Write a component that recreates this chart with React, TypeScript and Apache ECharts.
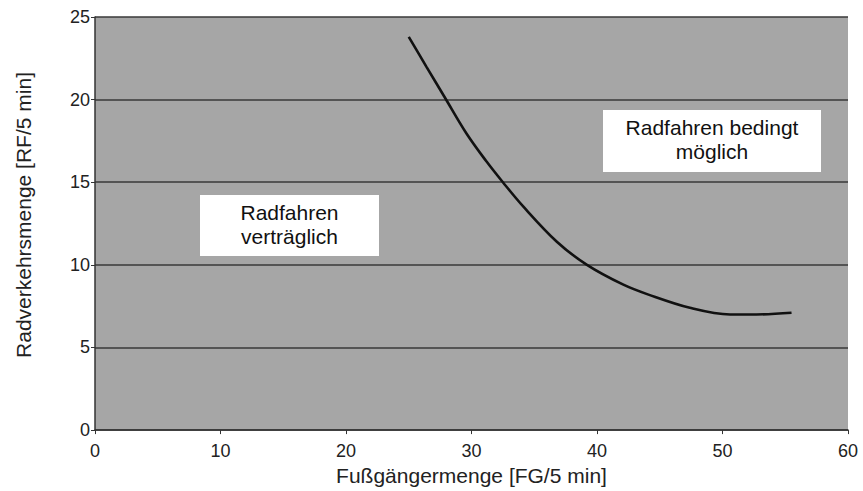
import React, { useEffect, useRef } from "react";
import * as echarts from "echarts";

const pedestrians = [25.0, 26.4, 27.9, 29.6, 31.2, 32.5, 34.1, 36.8, 39.2, 42.1, 44.1, 47.4, 50.6, 52.7, 55.5];
const cyclists = [23.8, 22.0, 20.1, 17.95, 16.25, 15.0, 13.55, 11.4, 10.0, 8.8, 8.2, 7.4, 7.0, 7.0, 7.1];
const xTicks = [0, 10, 20, 30, 40, 50, 60];
const yTicks = [0, 5, 10, 15, 20, 25];
const xTitle = "Fußgängermenge [FG/5 min]";
const yTitle = "Radverkehrsmenge [RF/5 min]";
const zoneLeft = "Radfahren\nverträglich";
const zoneRight = "Radfahren bedingt\nmöglich";

const FONT = "'Liberation Sans', Arial, sans-serif";

export default function App() {
  const ref = useRef<HTMLDivElement>(null);
  useEffect(() => {
    if (!ref.current) return;
    const chart = echarts.init(ref.current, null, { renderer: "svg" });
    const data = pedestrians.map((x, i) => [x, cyclists[i]]);
    chart.setOption({
      animation: false,
      backgroundColor: "#ffffff",
      textStyle: { fontFamily: FONT },
      grid: {
        left: 95,
        right: 15,
        top: 17,
        bottom: 58,
        show: true,
        backgroundColor: "#a6a6a6",
        borderWidth: 0,
      },
      xAxis: {
        type: "value",
        min: xTicks[0],
        max: xTicks[xTicks.length - 1],
        interval: 10,
        name: xTitle,
        nameLocation: "middle",
        nameGap: 33,
        nameTextStyle: { fontSize: 21, color: "#222", fontFamily: FONT },
        axisLine: { show: true, lineStyle: { color: "#333", width: 1.5 } },
        axisTick: { show: true, length: 4, lineStyle: { color: "#333" } },
        axisLabel: { fontSize: 18, color: "#222", margin: 12, fontFamily: FONT },
        splitLine: { show: false },
      },
      yAxis: {
        type: "value",
        min: yTicks[0],
        max: yTicks[yTicks.length - 1],
        interval: 5,
        axisLine: { show: true, lineStyle: { color: "#333", width: 1.5 } },
        axisTick: { show: true, length: 4, lineStyle: { color: "#333" } },
        axisLabel: {
          fontSize: 18,
          color: "#222",
          margin: 5,
          fontFamily: FONT,
          padding: [10, 0, 0, 0],
        },
        splitLine: { show: true, lineStyle: { color: "#383838", width: 1.6 } },
      },
      graphic: [
        {
          type: "text",
          x: 23,
          y: 215,
          rotation: Math.PI / 2,
          style: {
            text: yTitle,
            fontSize: 21,
            fill: "#222",
            fontFamily: FONT,
            align: "center",
            verticalAlign: "middle",
          },
        },
        {
          type: "rect",
          shape: { x: 200, y: 195, width: 179, height: 61 },
          style: { fill: "#ffffff" },
          z: 10,
        },
        {
          type: "text",
          x: 289.5,
          y: 224,
          z: 11,
          style: {
            text: zoneLeft,
            fontSize: 21,
            lineHeight: 24,
            fill: "#111",
            fontFamily: FONT,
            align: "center",
            verticalAlign: "middle",
          },
        },
        {
          type: "rect",
          shape: { x: 603, y: 110, width: 218, height: 62 },
          style: { fill: "#ffffff" },
          z: 10,
        },
        {
          type: "text",
          x: 712,
          y: 139,
          z: 11,
          style: {
            text: zoneRight,
            fontSize: 21,
            lineHeight: 24,
            fill: "#111",
            fontFamily: FONT,
            align: "center",
            verticalAlign: "middle",
          },
        },
      ],
      series: [
        {
          type: "line",
          data,
          smooth: 0.35,
          symbol: "none",
          lineStyle: { color: "#111", width: 2.6 },
          z: 5,
        },
      ],
    });
    return () => chart.dispose();
  }, []);
  return (
    <div
      ref={ref}
      style={{ position: "fixed", left: 0, top: 0, width: 863, height: 491 }}
    />
  );
}
